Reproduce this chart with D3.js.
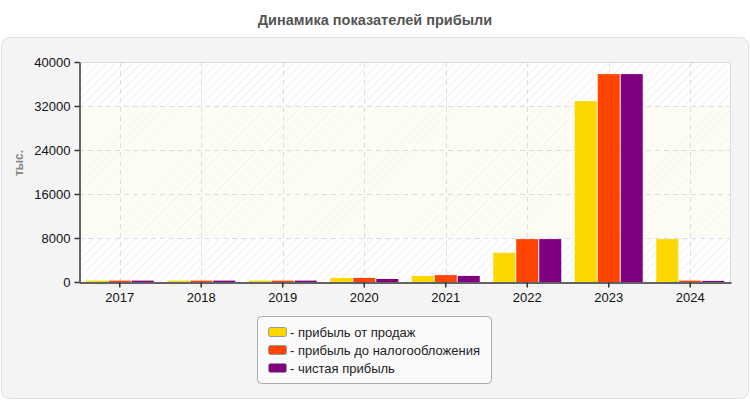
<!DOCTYPE html>
<html>
<head>
<meta charset="utf-8">
<script src="https://cdn.jsdelivr.net/npm/d3@7"></script>
<style>
  html, body { margin: 0; padding: 0; background: #fff; }
  svg { display: block; font-family: "Liberation Sans", Arial, sans-serif; }
</style>
</head>
<body>
<svg id="chart" width="750" height="400"></svg>
<script>
const title = "Динамика показателей прибыли";
const yLabel = "тыс.";
const years = ["2017", "2018", "2019", "2020", "2021", "2022", "2023", "2024"];
const seriesNames = ["прибыль от продаж", "прибыль до налогообложения", "чистая прибыль"];
const seriesColors = ["#FFD700", "#FF4500", "#800080"];
const salesProfit = [250, 250, 250, 750, 1100, 5300, 32900, 7800];
const preTaxProfit = [250, 250, 250, 750, 1250, 7800, 37800, 250];
const netProfit = [250, 250, 250, 550, 1100, 7800, 37800, 200];
const yTicks = [0, 8000, 16000, 24000, 32000, 40000];
const bands = [[8000, 32000]];

const series = [salesProfit, preTaxProfit, netProfit];

const svg = d3.select("#chart");
const m = { left: 79, right: 731, top: 62, bottom: 282 };

// title
svg.append("text")
  .attr("x", 375).attr("y", 25)
  .attr("text-anchor", "middle")
  .attr("font-size", 14.5).attr("font-weight", "bold")
  .attr("fill", "#555")
  .text(title);

// outer panel
svg.append("rect")
  .attr("x", 1.5).attr("y", 37.5).attr("width", 747).attr("height", 361)
  .attr("rx", 8).attr("ry", 8)
  .attr("fill", "#f4f4f4").attr("stroke", "#e0e0e0");

// hatch pattern
const defs = svg.append("defs");
const pat = defs.append("pattern")
  .attr("id", "hatch").attr("patternUnits", "userSpaceOnUse")
  .attr("width", 6).attr("height", 6)
  .attr("patternTransform", "rotate(45)");
pat.append("rect").attr("width", 6).attr("height", 6).attr("fill", "#ffffff");
pat.append("line").attr("x1", 0).attr("y1", 0).attr("x2", 0).attr("y2", 6)
  .attr("stroke", "#f0f0f0").attr("stroke-width", 2);

const x = d3.scaleBand().domain(years).range([m.left, m.right]);
const y = d3.scaleLinear().domain([0, 40000]).range([m.bottom, m.top]);
const inner = d3.scaleBand().domain(d3.range(series.length))
  .range([0, x.bandwidth()]).paddingOuter(0.293).paddingInner(0.043);

// plot background
svg.append("rect")
  .attr("x", m.left).attr("y", m.top)
  .attr("width", m.right - m.left).attr("height", m.bottom - m.top)
  .attr("fill", "url(#hatch)");

// plot bands
svg.selectAll("rect.band").data(bands).enter().append("rect")
  .attr("class", "band")
  .attr("x", m.left).attr("width", m.right - m.left)
  .attr("y", d => y(d[1])).attr("height", d => y(d[0]) - y(d[1]))
  .attr("fill", "#fcfcef").attr("opacity", 0.6);

// plot border (top and right)
svg.append("path")
  .attr("d", `M${m.left},${m.top + 0.5}H${m.right - 0.5}V${m.bottom}`)
  .attr("fill", "none").attr("stroke", "#dcdcdc");

// horizontal grid
svg.selectAll("line.hgrid").data(yTicks.slice(1, -1)).enter().append("line")
  .attr("x1", m.left).attr("x2", m.right)
  .attr("y1", d => Math.round(y(d)) + 0.5).attr("y2", d => Math.round(y(d)) + 0.5)
  .attr("stroke", "#dddddd").attr("stroke-dasharray", "5,4");

// vertical grid
svg.selectAll("line.vgrid").data(years).enter().append("line")
  .attr("x1", d => Math.round(x(d) + x.bandwidth() / 2) + 0.5)
  .attr("x2", d => Math.round(x(d) + x.bandwidth() / 2) + 0.5)
  .attr("y1", m.top).attr("y2", m.bottom)
  .attr("stroke", "#dddddd").attr("stroke-dasharray", "5,4");

// bars
series.forEach((vals, si) => {
  svg.selectAll("rect.s" + si).data(vals).enter().append("rect")
    .attr("class", "s" + si)
    .attr("x", (d, i) => x(years[i]) + inner(si))
    .attr("width", inner.bandwidth())
    .attr("y", d => y(d))
    .attr("height", d => y(0) - y(d))
    .attr("fill", seriesColors[si]);
});

// y axis
const yAxis = svg.append("g")
  .attr("transform", `translate(${m.left + 0.5},0)`)
  .call(d3.axisLeft(y).tickValues(yTicks).tickSize(5).tickSizeOuter(0).tickFormat(d3.format("d")));
yAxis.select(".domain").attr("stroke", "#333").attr("stroke-width", 1.5);
yAxis.selectAll(".tick line").attr("stroke", "#333").attr("stroke-width", 1.5);
yAxis.selectAll(".tick text").attr("font-size", 13).attr("fill", "#111")
  .attr("font-family", "\"Liberation Sans\", Arial, sans-serif").attr("dx", -1);

// x axis
const xAxis = svg.append("g")
  .attr("transform", `translate(0,${m.bottom + 0.5})`)
  .call(d3.axisBottom(x).tickSize(5).tickSizeOuter(0));
xAxis.select(".domain").attr("stroke", "#333").attr("stroke-width", 1.5);
xAxis.selectAll(".tick line").attr("stroke", "#333").attr("stroke-width", 1.5);
xAxis.selectAll(".tick text").attr("font-size", 13).attr("fill", "#111")
  .attr("font-family", "\"Liberation Sans\", Arial, sans-serif").attr("dy", "0.85em");

// y label
svg.append("text")
  .attr("transform", "translate(23,163) rotate(-90)")
  .attr("text-anchor", "middle")
  .attr("font-size", 12).attr("font-weight", "bold").attr("fill", "#888")
  .text(yLabel);

// legend
svg.append("rect")
  .attr("x", 257.5).attr("y", 316.5).attr("width", 234).attr("height", 67)
  .attr("rx", 4).attr("ry", 4)
  .attr("fill", "#fafafa").attr("stroke", "#aaaaaa");
const lg = svg.selectAll("g.leg").data(seriesNames).enter().append("g")
  .attr("class", "leg")
  .attr("transform", (d, i) => `translate(268,${332 + i * 18})`);
lg.append("rect")
  .attr("x", 0.5).attr("y", -4.5).attr("width", 18).attr("height", 9)
  .attr("rx", 2).attr("fill", (d, i) => seriesColors[i]).attr("stroke", "#999");
lg.append("text")
  .attr("x", 22).attr("y", 0).attr("dy", "0.35em")
  .attr("font-size", 13).attr("fill", "#222")
  .text(d => "- " + d);
</script>
</body>
</html>
